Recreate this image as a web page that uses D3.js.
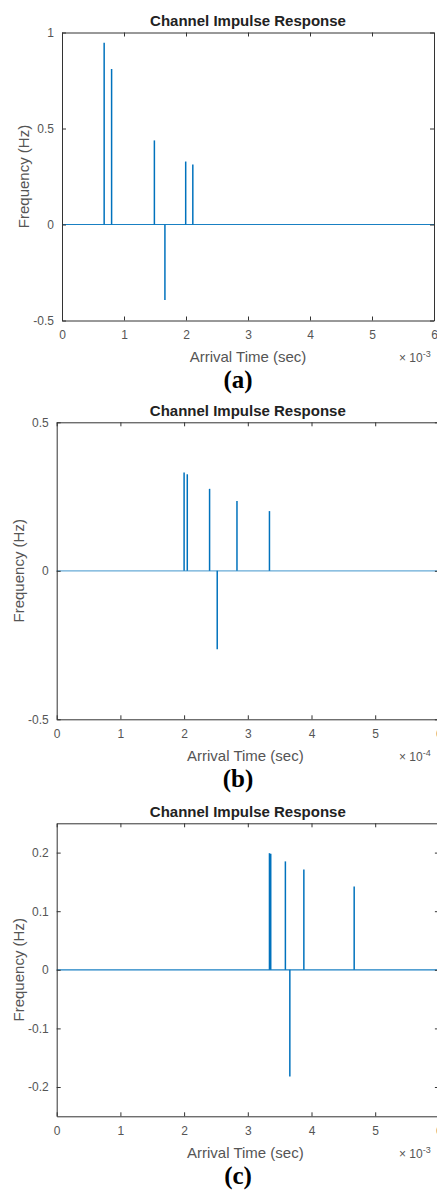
<!DOCTYPE html>
<html>
<head>
<meta charset="utf-8">
<script src="https://cdn.jsdelivr.net/npm/d3@7"></script>
<style>
  body { margin: 0; background: #fff; }
  svg { display: block; }
  .tick text { font-family: "Liberation Sans", Arial, sans-serif; font-size: 12px; fill: #555; }
</style>
</head>
<body>
<div id="chart"></div>
<script>
// arrival times (x10^exp sec) and amplitudes
const timesA = [0.68, 0.80, 1.49, 1.66, 1.995, 2.11];
const ampsA  = [0.947, 0.81, 0.438, -0.393, 0.328, 0.313];

const timesB = [2.00, 2.05, 2.40, 2.52, 2.83, 3.34];
const ampsB  = [0.331, 0.325, 0.276, -0.264, 0.235, 0.201];

const timesC = [3.34, 3.36, 3.59, 3.66, 3.88, 4.67];
const ampsC  = [0.199, 0.198, 0.185, -0.182, 0.171, 0.142];

const xTicks = [0, 1, 2, 3, 4, 5, 6];
const yTicksA = [-0.5, 0, 0.5, 1];
const yTicksB = [-0.5, 0, 0.5];
const yTicksC = [-0.2, -0.1, 0, 0.1, 0.2];

const titleText = "Channel Impulse Response";
const xLabel = "Arrival Time (sec)";
const yLabel = "Frequency (Hz)";
const captions = ["(a)", "(b)", "(c)"];
const exponents = ["-3", "-4", "-3"];

const blue = "#0072BD";
const ink = "#333";

const svg = d3.select("#chart")
    .append("svg")
    .attr("width", 437)
    .attr("height", 1190);

//Function to draw one stem panel
function drawPanel(box, times, amps, yDomain, yTicks, caption, exponent, baseOpacity) {

    const xScale = d3.scaleLinear().domain([0, 6]).range([box.left, box.right]);
    const yScale = d3.scaleLinear().domain(yDomain).range([box.bottom, box.top]);

    const g = svg.append("g");

    // zero baseline of the response
    g.append("line")
        .attr("x1", xScale(0))
        .attr("x2", xScale(6))
        .attr("y1", yScale(0))
        .attr("y2", yScale(0))
        .attr("stroke", blue)
        .attr("stroke-opacity", baseOpacity)
        .attr("stroke-width", 1.2);

    // stems
    g.selectAll(".stem")
        .data(times.map((t, i) => ({ t: t, v: amps[i] })))
        .join("line")
        .attr("class", "stem")
        .attr("x1", d => xScale(d.t))
        .attr("x2", d => xScale(d.t))
        .attr("y1", yScale(0))
        .attr("y2", d => yScale(d.v))
        .attr("stroke", blue)
        .attr("stroke-width", 1.5);

    // axes, MATLAB style box with inward ticks
    const fmt = d => String(d);

    g.append("g")
        .attr("transform", `translate(0,${box.bottom})`)
        .call(d3.axisBottom(xScale).tickValues(xTicks).tickFormat(fmt)
            .tickSizeInner(-4).tickSizeOuter(0).tickPadding(10));

    g.append("g")
        .attr("transform", `translate(0,${box.top})`)
        .call(d3.axisTop(xScale).tickValues(xTicks).tickFormat("")
            .tickSizeInner(-4).tickSizeOuter(0));

    g.append("g")
        .attr("transform", `translate(${box.left},0)`)
        .call(d3.axisLeft(yScale).tickValues(yTicks).tickFormat(fmt)
            .tickSizeInner(-4).tickSizeOuter(0).tickPadding(8));

    g.append("g")
        .attr("transform", `translate(${box.right},0)`)
        .call(d3.axisRight(yScale).tickValues(yTicks).tickFormat("")
            .tickSizeInner(-4).tickSizeOuter(0));

    g.selectAll(".domain, .tick line")
        .attr("stroke", ink)
        .attr("stroke-width", 1);

    // title
    g.append("text")
        .attr("x", (box.left + box.right) / 2)
        .attr("y", box.top - 12)
        .attr("dy", "0.35em")
        .style("text-anchor", "middle")
        .style("font-family", "Liberation Sans, Arial, sans-serif")
        .style("font-weight", "bold")
        .style("font-size", "15px")
        .style("fill", "#222")
        .text(titleText);

    // x label
    g.append("text")
        .attr("x", (box.left + 434) / 2)
        .attr("y", box.bottom + 36)
        .attr("dy", "0.35em")
        .style("text-anchor", "middle")
        .style("font-family", "Liberation Sans, Arial, sans-serif")
        .style("font-size", "15px")
        .style("fill", "#555")
        .text(xLabel);

    // exponent
    const ex = g.append("text")
        .attr("x", 399)
        .attr("y", box.bottom + 37)
        .attr("dy", "0.35em")
        .style("font-family", "Liberation Sans, Arial, sans-serif")
        .style("font-size", "12px")
        .style("fill", "#555");
    ex.append("tspan").text("\u00d7 10");
    ex.append("tspan").attr("dy", "-0.5em").style("font-size", "9px").text(exponent);

    // y label
    g.append("text")
        .attr("transform", `translate(${box.left - 38},${(box.top + box.bottom) / 2}) rotate(-90)`)
        .attr("dy", "0.35em")
        .style("text-anchor", "middle")
        .style("font-family", "Liberation Sans, Arial, sans-serif")
        .style("font-size", "15px")
        .style("fill", "#555")
        .text(yLabel);

    // caption
    g.append("text")
        .attr("x", 238)
        .attr("y", box.bottom + 59)
        .attr("dy", "0.35em")
        .style("text-anchor", "middle")
        .style("font-family", "Liberation Serif, Times New Roman, serif")
        .style("font-weight", "bold")
        .style("font-size", "25px")
        .style("fill", "#000")
        .text(caption);
}

drawPanel({ left: 62, right: 434, top: 32.5, bottom: 320.5 },
    timesA, ampsA, [-0.5, 1], yTicksA, captions[0], exponents[0], 0.9);
drawPanel({ left: 56.7, right: 438.9, top: 422.3, bottom: 719.3 },
    timesB, ampsB, [-0.5, 0.5], yTicksB, captions[1], exponents[1], 0.6);
drawPanel({ left: 56.7, right: 438.9, top: 823.3, bottom: 1116.3 },
    timesC, ampsC, [-0.25, 0.25], yTicksC, captions[2], exponents[2], 0.9);
</script>
</body>
</html>
